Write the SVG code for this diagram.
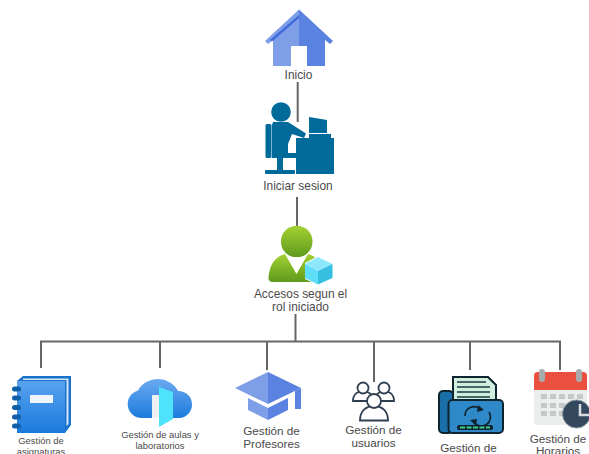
<svg xmlns="http://www.w3.org/2000/svg" width="589" height="454" viewBox="0 0 589 454">
<defs>
<style>
text{font-family:"Liberation Sans",Arial,sans-serif;fill:#4a4a4a;text-anchor:middle}
.t{font-size:11.9px}
.m{font-size:11.7px}
.s{font-size:9.4px}
.c{fill:none;stroke:#666;stroke-width:2}
.b{fill:#006a9a}
</style>
<linearGradient id="gG" x1="0" y1="0" x2="0" y2="1"><stop offset="0" stop-color="#a2d132"/><stop offset="1" stop-color="#5f9a1c"/></linearGradient>
<linearGradient id="bG" x1="0" y1="0" x2="0" y2="1"><stop offset="0" stop-color="#5aa2ef"/><stop offset="1" stop-color="#1a79dc"/></linearGradient>
<linearGradient id="cG" x1="0" y1="0" x2="0" y2="1"><stop offset="0" stop-color="#6aaaf0"/><stop offset="1" stop-color="#1d7cdc"/></linearGradient>
</defs>
<rect width="589" height="454" fill="#fff"/>
<g id="connectors">
<path class="c" d="M297.7 82V122M297 197V226M295.500 314V341M41 368V341.500H560V370M160 341.500V368M267 341.500V370M374 341.500V382M470 341.500V370"/>
</g>
<g id="inicio">
<path d="M299 9.500L265 41L268 44L273 40V66H291V46H299V9.500Z" fill="#7e9fe8"/>
<path d="M299 9.500L333 41L330 44L325 40V66H307V46H299V9.500Z" fill="#5a82e0"/>
<path d="M299 18L272 41.500L270 40L299 15Z" fill="#3f68da"/>
<text class="t" x="298.500" y="79">Inicio</text>
</g>
<g id="iniciar-sesion">
<circle class="b" cx="281" cy="112" r="9.800"/>
<path class="b" d="M273 122H288L306 133.500L304 138L292 134L288 144V153H296V158H272V125Z"/>
<rect class="b" x="265.500" y="124" width="6" height="34" rx="1.500"/>
<rect class="b" x="277" y="158" width="6" height="12"/>
<rect class="b" x="265" y="170" width="30" height="4" rx="1"/>
<rect class="b" x="296" y="138" width="38" height="36"/>
<path class="b" d="M309 117L327 120V133H309Z"/>
<rect class="b" x="309" y="134" width="22" height="4"/>
<text class="t" x="298" y="190">Iniciar sesion</text>
</g>
<g id="accesos">
<path d="M285 254L296.500 274L308 254C316 256 322 262 324 276V282H273C270 282 268 280 268.500 277C270 264 275 257 285 254Z" fill="url(#gG)"/>
<circle cx="296.700" cy="241.500" r="15.800" fill="url(#gG)"/>
<path d="M288 257H305L296.500 273Z" fill="#fff"/>
<path d="M318 256L333 263V279L318 285L305 279V263Z" fill="#fff"/>
<path d="M318 257L332.500 264L318 271L305 264Z" fill="#8ee8fc"/>
<path d="M305 264L318 271V284.500L305 278Z" fill="#5fdcf8"/>
<path d="M332.500 264V278L318 284.500V271Z" fill="#35bfe0"/>
<text class="t" x="300.500" y="298">Accesos segun el</text>
<text class="t" x="300.500" y="311">rol iniciado</text>
</g>
<g id="gestion-asignaturas">
<path d="M23 376H71V425L65 433H17V381Z" fill="#1a72cc"/>
<path d="M17 381H65V433H17Z" fill="url(#bG)"/>
<path d="M23 378.500H68.500V424L66.500 426V380H23Z" fill="#d3e6fa"/>
<rect x="30" y="395" width="23" height="8" fill="#eef5fd"/>
<g fill="#0e5fa8"><rect x="12" y="386.500" width="9" height="5" rx="2.500"/><rect x="12" y="395.500" width="9" height="5" rx="2.500"/><rect x="12" y="405" width="9" height="5" rx="2.500"/><rect x="12" y="414.500" width="9" height="5" rx="2.500"/><rect x="12" y="423.500" width="9" height="5" rx="2.500"/></g>
<text class="s" x="41" y="444">Gestión de</text>
<text class="s" x="41" y="455">asignaturas</text>
</g>
<g id="gestion-aulas">
<path d="M142 418A14 14 0 0 1 138 390.500A22 20 0 0 1 178 391A13.500 13.500 0 0 1 179 418Z" fill="url(#cG)"/>
<rect x="152" y="395" width="8" height="23" fill="#eef0f4"/>
<path d="M159 387L173 392V419L159 427Z" fill="#4fe3fb"/>
<text class="s" x="160" y="438">Gestión de aulas y</text>
<text class="s" x="160" y="449">laboratorios</text>
</g>
<g id="gestion-profesores">
<path d="M268 372L235 388L268 404Z" fill="#7e9fe8"/>
<path d="M268 372L301 388L268 404Z" fill="#5a82e0"/>
<path d="M248 398L268 408V420L248 410Z" fill="#7e9fe8"/>
<path d="M288 398L268 408V420L288 410Z" fill="#5a82e0"/>
<path d="M295 391L301 388V409H295Z" fill="#5a82e0"/>
<text class="m" x="271.500" y="435">Gestión de</text>
<text class="m" x="271.500" y="448">Profesores</text>
</g>
<g id="gestion-usuarios">
<g fill="#fff" stroke="#2f3f50" stroke-width="1.800">
<path d="M353 401C353 394 358 391 363 391C368 391 373 394 373 401Z"/>
<circle cx="363" cy="388" r="5.500"/>
<path d="M375 401C375 394 380 391 384 391C389 391 394 394 394 401Z"/>
<circle cx="384" cy="388" r="5.500"/>
<path d="M360 420.500C360 411 366 406 374 406C382 406 388 411 388 420.500Z"/>
<circle cx="374" cy="401" r="7"/>
</g>
<text class="m" x="373.500" y="434">Gestión de</text>
<text class="m" x="373.500" y="447">usuarios</text>
</g>
<g id="gestion-documentos">
<rect x="439" y="391" width="14" height="42" rx="4" fill="#1a6fa8" stroke="#0e2530" stroke-width="2"/>
<path d="M453 377H488L496 385V402H453Z" fill="#cfeede" stroke="#0e2530" stroke-width="2"/>
<path d="M457 382H486M457 387H490M457 392H490M457 397H490" stroke="#1d3a40" stroke-width="1.300" fill="none"/>
<rect x="448.500" y="400" width="54.500" height="33" rx="4" fill="#2f88c8" stroke="#0e2530" stroke-width="2"/>
<path d="M465 416A9 9 0 0 1 480 409M489 412A9 9 0 0 1 474 422" fill="none" stroke="#0e2530" stroke-width="1.600"/>
<path d="M478 405L484 410L477 412ZM476 426L470 420L477 419Z" fill="#0e2530"/>
<rect x="457" y="425" width="36" height="5" rx="2" fill="#0e2530"/>
<path d="M460 427.500H490" stroke="#3fd08f" stroke-width="2" stroke-dasharray="5 1.500"/>
<text class="m" x="468.500" y="452">Gestión de</text>
</g>
<g id="gestion-horarios">
<rect x="534" y="372" width="53" height="53" rx="4" fill="#eceded"/>
<path d="M534 390V376Q534 372 538 372H583Q587 372 587 376V390Z" fill="#e9503f"/>
<rect x="539" y="369" width="6" height="13" rx="3" fill="#a8acac"/>
<rect x="576" y="369" width="6" height="13" rx="3" fill="#a8acac"/>
<g fill="#c6c9ca"><rect x="541" y="394" width="6" height="5"/><rect x="550" y="394" width="6" height="5"/><rect x="559" y="394" width="6" height="5"/><rect x="568" y="394" width="6" height="5"/><rect x="577" y="394" width="6" height="5"/><rect x="541" y="403" width="6" height="5"/><rect x="550" y="403" width="6" height="5"/><rect x="559" y="403" width="6" height="5"/><rect x="541" y="411" width="6" height="5"/><rect x="550" y="411" width="6" height="5"/><rect x="559" y="411" width="6" height="5"/></g>
<circle cx="576.500" cy="414" r="14" fill="#34495e" stroke="#8b99a0" stroke-width="1"/>
<path d="M580 404V415H589" fill="none" stroke="#d8dde0" stroke-width="2.500"/>
<text class="m" x="558" y="443">Gestión de</text>
<text class="m" x="558" y="455">Horarios</text>
</g>
</svg>
